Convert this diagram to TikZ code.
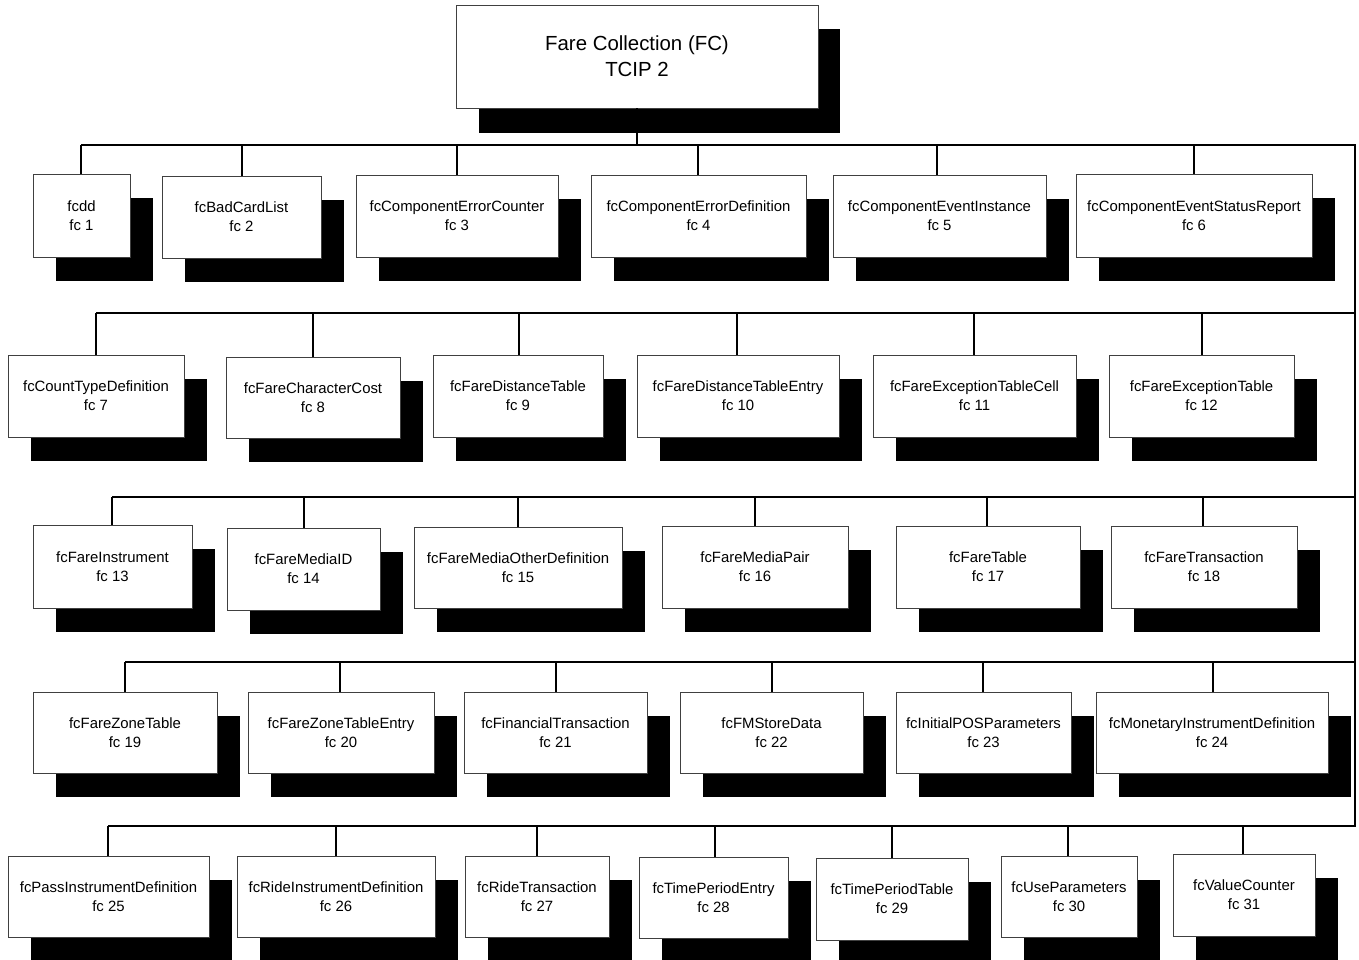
\documentclass[tikz,border=0pt]{standalone}
\usepackage{fontspec}
\setmainfont{Liberation Sans}
\begin{document}
\begin{tikzpicture}[x=1pt,y=-1pt,
  fcb/.style={draw=black!75, line width=0.8pt, fill=white, inner sep=0pt, align=center,
    font=\fontsize{14.9}{19}\selectfont},
  rootb/.style={draw=black!75, line width=0.8pt, fill=white, inner sep=0pt, align=center,
    font=\fontsize{20.4}{26}\selectfont},
  link/.style={line width=1.6pt, black}]
\useasboundingbox (0,0) rectangle (1359,960);
\newcommand\fcbox[7]{%
  \fill[black] ({#2+23},{#3+24}) rectangle ({#4+23},{#5+24});
  \node[fcb, minimum width={(#4-#2)*1pt}, minimum height={(#5-#3)*1pt}]
    (#1) at ({(#2+#4)/2},{(#3+#5)/2}) {#6\\#7};}
\newcommand\hookup[4]{% node, bus x, bus y
  \coordinate (b#1) at (#2,#3);
  \draw[link] (b#1) -- (b#1 |- #1.north);}
% root
\fill[black] (479,29) rectangle (840,133);
\node[rootb, minimum width=362pt, minimum height=103pt] (root) at (637,56.5) {Fare Collection (FC)\\TCIP 2};
% boxes
\fcbox{n1}{33}{174}{130}{257}{fcdd}{fc 1}
\fcbox{n2}{162}{176}{321}{258}{fcBadCardList}{fc 2}
\fcbox{n3}{356}{175}{558}{257}{fcComponentErrorCounter}{fc 3}
\fcbox{n4}{591}{175}{806}{257}{fcComponentErrorDefinition}{fc 4}
\fcbox{n5}{833}{175}{1046}{257}{fcComponentEventInstance}{fc 5}
\fcbox{n6}{1076}{174}{1312}{257}{fcComponentEventStatusReport}{fc 6}
\fcbox{n7}{8}{355}{184}{437}{fcCountTypeDefinition}{fc 7}
\fcbox{n8}{226}{357}{400}{438}{fcFareCharacterCost}{fc 8}
\fcbox{n9}{433}{355}{603}{437}{fcFareDistanceTable}{fc 9}
\fcbox{n10}{637}{355}{839}{437}{fcFareDistanceTableEntry}{fc 10}
\fcbox{n11}{873}{355}{1076}{437}{fcFareExceptionTableCell}{fc 11}
\fcbox{n12}{1109}{355}{1294}{437}{fcFareExceptionTable}{fc 12}
\fcbox{n13}{33}{525}{192}{608}{fcFareInstrument}{fc 13}
\fcbox{n14}{227}{528}{380}{610}{fcFareMediaID}{fc 14}
\fcbox{n15}{414}{527}{622}{608}{fcFareMediaOtherDefinition}{fc 15}
\fcbox{n16}{662}{526}{848}{608}{fcFareMediaPair}{fc 16}
\fcbox{n17}{896}{526}{1080}{608}{fcFareTable}{fc 17}
\fcbox{n18}{1111}{526}{1297}{608}{fcFareTransaction}{fc 18}
\fcbox{n19}{33}{692}{217}{773}{fcFareZoneTable}{fc 19}
\fcbox{n20}{248}{692}{434}{773}{fcFareZoneTableEntry}{fc 20}
\fcbox{n21}{464}{692}{647}{773}{fcFinancialTransaction}{fc 21}
\fcbox{n22}{680}{692}{863}{773}{fcFMStoreData}{fc 22}
\fcbox{n23}{896}{692}{1071}{773}{fcInitialPOSParameters}{fc 23}
\fcbox{n24}{1096}{692}{1328}{773}{fcMonetaryInstrumentDefinition}{fc 24}
\fcbox{n25}{8}{856}{209}{937}{fcPassInstrumentDefinition}{fc 25}
\fcbox{n26}{237}{856}{435}{937}{fcRideInstrumentDefinition}{fc 26}
\fcbox{n27}{465}{856}{609}{937}{fcRideTransaction}{fc 27}
\fcbox{n28}{639}{857}{788}{938}{fcTimePeriodEntry}{fc 28}
\fcbox{n29}{816}{858}{968}{940}{fcTimePeriodTable}{fc 29}
\fcbox{n30}{1001}{856}{1137}{937}{fcUseParameters}{fc 30}
\fcbox{n31}{1173}{854}{1315}{936}{fcValueCounter}{fc 31}
% trunk
\coordinate (top) at (637,145);
\coordinate (r1) at (1355,145);
\coordinate (r2) at (1355,313);
\coordinate (r3) at (1355,497);
\coordinate (r4) at (1355,662);
\coordinate (r5) at (1355,826);
\draw[link] (root.south) -- (top);
\draw[link, line cap=rect] (r1) -- (r5);
% row 1
\hookup{n1}{81}{145}{}
\hookup{n2}{242}{145}{}
\hookup{n3}{457}{145}{}
\hookup{n4}{698}{145}{}
\hookup{n5}{937}{145}{}
\hookup{n6}{1194}{145}{}
\draw[link] (bn1) -- (r1);
% row 2
\hookup{n7}{96}{313}{}
\hookup{n8}{313}{313}{}
\hookup{n9}{519}{313}{}
\hookup{n10}{737}{313}{}
\hookup{n11}{974}{313}{}
\hookup{n12}{1202}{313}{}
\draw[link] (bn7) -- (r2);
% row 3
\hookup{n13}{112}{497}{}
\hookup{n14}{304}{497}{}
\hookup{n15}{518}{497}{}
\hookup{n16}{755}{497}{}
\hookup{n17}{987}{497}{}
\hookup{n18}{1203}{497}{}
\draw[link] (bn13) -- (r3);
% row 4
\hookup{n19}{125}{662}{}
\hookup{n20}{340}{662}{}
\hookup{n21}{556}{662}{}
\hookup{n22}{772}{662}{}
\hookup{n23}{983}{662}{}
\hookup{n24}{1213}{662}{}
\draw[link] (bn19) -- (r4);
% row 5
\hookup{n25}{108}{826}{}
\hookup{n26}{336}{826}{}
\hookup{n27}{537}{826}{}
\hookup{n28}{715}{826}{}
\hookup{n29}{892}{826}{}
\hookup{n30}{1068}{826}{}
\hookup{n31}{1243}{826}{}
\draw[link] (bn25) -- (r5);
\end{tikzpicture}
\end{document}
